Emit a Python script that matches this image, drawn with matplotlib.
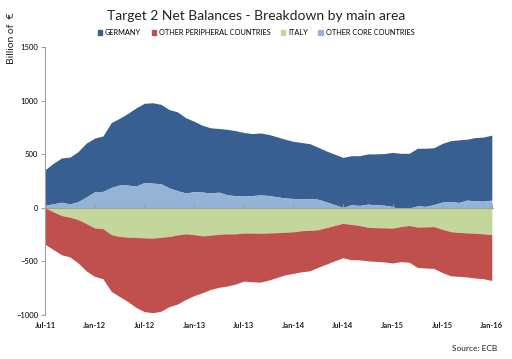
import numpy as np
import matplotlib.pyplot as plt
import matplotlib.transforms as mtransforms
from matplotlib.patches import Patch

# monthly, Jul-11 .. Jan-16 (billion EUR)
germany = [333, 377, 413, 437, 467, 503, 500, 517, 605, 622, 668, 730, 739, 750, 741,
           731, 735, 702, 658, 623, 608, 594, 610, 607, 588, 578, 578, 570, 560, 548,
           533, 523, 513, 485, 475, 470, 467, 458, 464, 468, 475, 482, 505, 526, 511,
           537, 543, 530, 547, 568, 584, 568, 591, 598, 606]
other_core = [22, 38, 52, 36, 58, 102, 150, 153, 190, 213, 212, 202, 236, 230, 224,
              185, 160, 138, 150, 147, 138, 146, 122, 113, 115, 114, 120, 115, 103, 92,
              87, 86, 85, 80, 55, 30, 3, 28, 22, 34, 28, 24, 12, -18, -3,
              18, 13, 30, 53, 58, 50, 72, 64, 62, 72]
italy = [0, -38, -72, -88, -110, -148, -188, -195, -250, -267, -274, -277, -280, -283, -275,
         -268, -253, -243, -250, -262, -256, -247, -243, -243, -235, -236, -237, -235, -232, -228,
         -224, -214, -210, -205, -185, -165, -145, -155, -165, -182, -185, -187, -190, -175, -165,
         -180, -178, -175, -200, -222, -230, -234, -238, -243, -250]
other_periph = [-340, -352, -366, -370, -405, -442, -452, -467, -530, -561, -601, -653, -688, -696, -690,
                -654, -645, -612, -570, -530, -506, -495, -487, -469, -449, -454, -457, -440, -418, -397,
                -388, -383, -378, -350, -340, -330, -321, -329, -321, -313, -315, -318, -325, -327, -343,
                -376, -384, -391, -404, -412, -410, -411, -417, -419, -428]
tick_labels = ['Jul-11', 'Jan-12', 'Jul-12', 'Jan-13', 'Jul-13', 'Jan-14',
               'Jul-14', 'Jan-15', 'Jul-15', 'Jan-16']

C_DE = '#375f92'
C_OP = '#c0504d'
C_IT = '#c4d79b'
C_OC = '#95b3d7'

plt.rcParams['font.family'] = ['Lato', 'DejaVu Sans']

x = np.arange(len(germany))
de = np.array(germany)
oc = np.array(other_core)
it = np.array(italy)
op = np.array(other_periph)

fig = plt.figure(figsize=(5.12, 3.59), dpi=100)
ax = fig.add_axes([0.088, 0.1226, 0.875, 0.7465])

ax.fill_between(x, oc, oc + de, color=C_DE, lw=0)
ax.fill_between(x, 0, oc, color=C_OC, lw=0)
ax.fill_between(x, 0, it, color=C_IT, lw=0)
ax.fill_between(x, it, it + op, color=C_OP, lw=0)

ax.set_xlim(0, 54.15)
ax.set_ylim(-1000, 1500)
ax.set_yticks([-1000, -500, 0, 500, 1000, 1500])
ax.tick_params(axis='y', labelsize=5.5, length=3, color='#a0a0a0', pad=2)

for s in ['top', 'right']:
    ax.spines[s].set_visible(False)
ax.spines['left'].set_color('#a0a0a0')
ax.spines['bottom'].set_position(('data', 0))
ax.spines['bottom'].set_color('#a0a0a0')
ax.set_xticks(np.arange(0, 55, 6))
ax.set_xticklabels([])
ax.tick_params(axis='x', length=3, direction='in', color='#a0a0a0')

trans = mtransforms.blended_transform_factory(ax.transData, ax.transAxes)
for xi, lab in zip(np.arange(0, 55, 6), tick_labels):
    ax.text(xi, -0.025, lab, transform=trans, ha='center', va='top',
            fontsize=5.5, fontweight='bold', color='#222222')

fig.text(0.5, 0.955, 'Target 2 Net Balances - Breakdown by main area',
         ha='center', va='center', fontsize=10, color='#222222')
fig.text(0.022, 0.895, 'Billion of  \u20ac', rotation=90, ha='center', va='center',
         fontsize=7.5, color='#222222')
fig.text(0.972, 0.03, 'Source: ECB', ha='right', va='center', fontsize=6, color='#222222')

handles = [Patch(color=C_DE), Patch(color=C_OP), Patch(color=C_IT), Patch(color=C_OC)]
names = ['GERMANY', 'OTHER PERIPHERAL COUNTRIES', 'ITALY', 'OTHER CORE COUNTRIES']
fig.legend(handles, names, loc='center', bbox_to_anchor=(0.5, 0.91), ncol=4,
           frameon=False, fontsize=5.3, handlelength=0.6, handleheight=0.6,
           handletextpad=0.4, columnspacing=1.4)

fig.savefig('out.png', dpi=100)
